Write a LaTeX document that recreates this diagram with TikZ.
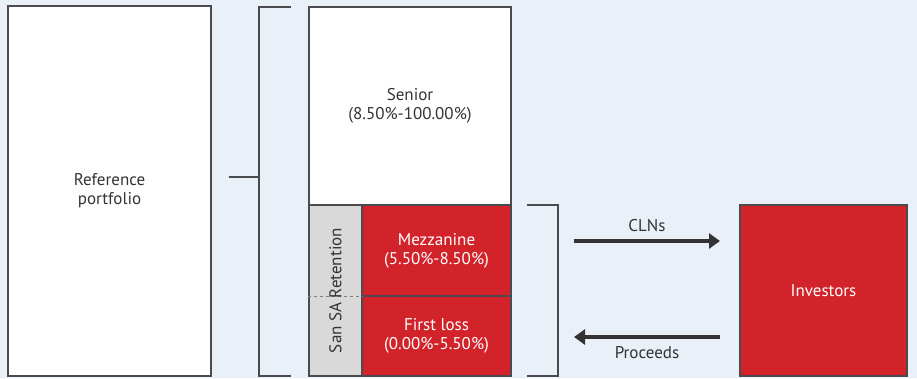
\documentclass[tikz,border=0pt]{standalone}
\usepackage{fontspec}
\setmainfont{PT Sans}
\usepackage{xcolor}
\usepackage{tikz}
\usetikzlibrary{arrows.meta}

\definecolor{bgblue}{HTML}{EAF0F8}
\definecolor{frame}{HTML}{4A4A4F}
\definecolor{ink}{HTML}{333336}
\definecolor{trred}{HTML}{D2232A}
\definecolor{retgray}{HTML}{D9D9D9}

\begin{document}
\begin{tikzpicture}[x=1pt, y=-1pt,
    box/.style={draw=frame, line width=1.3pt, inner sep=0pt, align=center,
      text=ink, font=\fontsize{17}{19}\selectfont},
    redbox/.style={box, fill=trred, text=white},
    brack/.style={draw=frame, line width=1.3pt},
    flow/.style={draw=ink, line width=4pt, -{Triangle[length=11pt, width=15pt]}},
    lbl/.style={font=\fontsize{17}{19}\selectfont, text=ink}]
  % Background
  \fill[bgblue] (0,0) rectangle (917,378);
  \useasboundingbox (0,0) rectangle (917,378);

  % Reference portfolio
  \node[box, fill=white, minimum width=203pt, minimum height=370pt] (ref) at (109.5,191) {Reference\\portfolio};

  % Tranches
  \node[box, fill=white, minimum width=202pt, minimum height=198pt] (senior) at (410,106) {Senior\\(8.50\%-100.00\%)};
  \node[redbox, minimum width=149pt, minimum height=91pt] (mezz) at (436.5,250.5) {Mezzanine\\(5.50\%-8.50\%)};
  \node[redbox, minimum width=149pt, minimum height=80pt] (first) at (436.5,336) {First loss\\(0.00\%-5.50\%)};
  \node[box, fill=retgray, minimum width=53pt, minimum height=171pt] (ret) at (335.5,290.5) {};
  \draw[gray, dashed, line width=0.8pt] (ret.west |- mezz.south) -- (ret.east |- mezz.south);
  \node[lbl, rotate=90] (retlbl) at (ret.center) {San SA Retention};

  % Brackets
  \coordinate (lt) at (291,7);
  \coordinate (lb) at (291,376);
  \draw[brack] (lt) -- (259,7) -- (259,376) -- (lb);
  \draw[brack] (ref.east |- 0,177) ++(17,0) -- (259,177);
  \coordinate (rt) at (527,205);
  \coordinate (rb) at (527,376);
  \draw[brack] (rt) -- (558,205) -- (558,376) -- (rb);

  % Investors
  \node[redbox, minimum width=167pt, minimum height=171pt] (inv) at (823.5,290.5) {Investors};

  % Flows
  \coordinate (clnA) at (574,241);
  \coordinate (procA) at (574,337);
  \draw[flow] (clnA) -- (clnA -| 720,0) node[midway, above=4pt, lbl] (cln) {CLNs};
  \draw[flow] (procA -| 720,0) -- (procA) node[midway, below=4pt, lbl] (proc) {Proceeds};
\end{tikzpicture}
\end{document}
